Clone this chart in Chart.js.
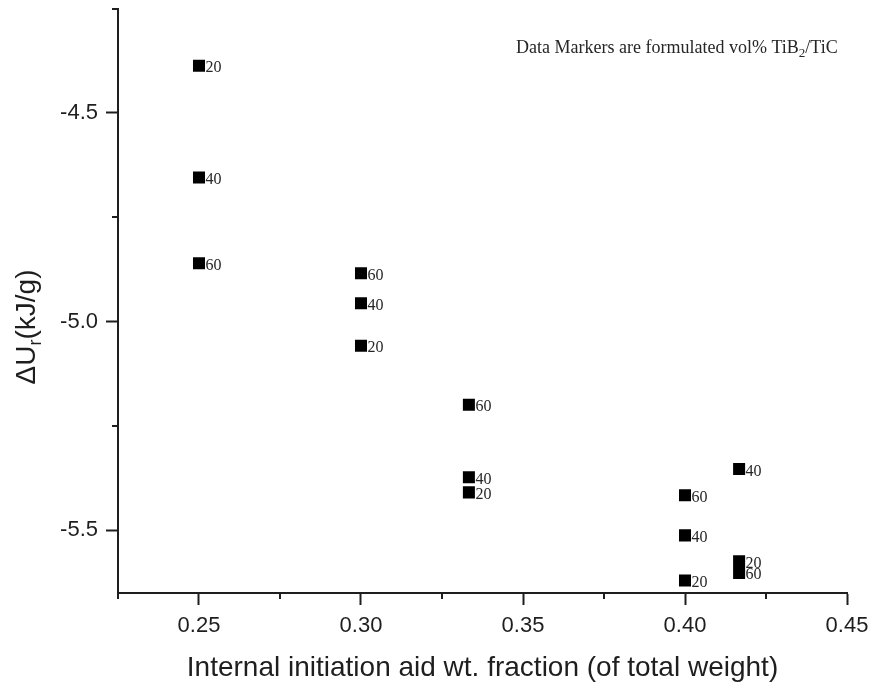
<!DOCTYPE html>
<html>
<head>
<meta charset="utf-8">
<title>Internal energy vs initiation aid fraction</title>
<script src="https://cdn.jsdelivr.net/npm/chart.js@4.4.1/dist/chart.umd.min.js"></script>
<style>
  html, body { margin: 0; padding: 0; background: #fff; }
  #wrap { width: 875px; height: 684px; }
</style>
</head>
<body>
<div id="wrap"><canvas id="energyChart" width="875" height="684"></canvas></div>
<script>
// initiation aid weight fraction for each formulation
const fractions = [0.25, 0.25, 0.25, 0.30, 0.30, 0.30, 0.3333, 0.3333, 0.3333,
                   0.40, 0.40, 0.40, 0.4167, 0.4167, 0.4167];
// reaction energy, kJ/g
const energies = [-4.387, -4.655, -4.860, -5.058, -4.956, -4.884, -5.409, -5.373, -5.199,
                  -5.620, -5.512, -5.416, -5.574, -5.353, -5.602];
// vol% TiB2/TiC printed next to each marker
const volPercents = ['20', '40', '60', '20', '40', '60', '20', '40', '60',
                     '20', '40', '60', '20', '40', '60'];

const xMajorTicks = [0.25, 0.30, 0.35, 0.40, 0.45];
const xMinorTicks = [0.225, 0.275, 0.325, 0.375, 0.425];
const yMajorTicks = [-5.5, -5.0, -4.5];
const yMinorTicks = [-5.25, -4.75, -4.25];

const ink = '#1e1e1e';
const sans = '"Liberation Sans", Arial, sans-serif';
const serif = '"Liberation Serif", "Times New Roman", serif';

function isIn(list, v) {
    return list.some(t => Math.abs(t - v) < 1e-6);
}

function setTicks(major, minor) {
    return scale => {
        scale.ticks = major.concat(minor).sort((a, b) => a - b).map(v => ({ value: v }));
    };
}

// fixed axis boxes, no extra room for overhanging tick labels
function fixBox(size, horizontal) {
    return scale => {
        if (horizontal) scale.height = size; else scale.width = size;
        scale.paddingTop = 0;
        scale.paddingBottom = 0;
        scale.paddingLeft = 0;
        scale.paddingRight = 0;
    };
}

// minor ticks are half length, drawn by hand; also the labels and titles with subscripts
const extrasPlugin = {
    id: 'extras',
    afterDraw(chart) {
        const ctx = chart.ctx;
        const xs = chart.scales.x;
        const ys = chart.scales.y;
        const area = chart.chartArea;
        ctx.save();

        ctx.strokeStyle = ink;
        ctx.lineWidth = 2;
        xMinorTicks.forEach(v => {
            const px = Math.round(xs.getPixelForValue(v));
            ctx.beginPath();
            ctx.moveTo(px, area.bottom);
            ctx.lineTo(px, area.bottom + 6);
            ctx.stroke();
        });
        yMinorTicks.forEach(v => {
            const py = Math.round(ys.getPixelForValue(v));
            ctx.beginPath();
            ctx.moveTo(area.left, py);
            ctx.lineTo(area.left - 6, py);
            ctx.stroke();
        });

        // vol% next to each marker
        const meta = chart.getDatasetMeta(0);
        ctx.fillStyle = '#262626';
        ctx.font = '16px ' + serif;
        ctx.textAlign = 'left';
        ctx.textBaseline = 'alphabetic';
        meta.data.forEach((pt, i) => {
            ctx.fillText(volPercents[i], pt.x + 6.5, pt.y + 6.5);
        });

        // note in the top right corner
        ctx.font = '18px ' + serif;
        let x = 516;
        const base = 53;
        const head = 'Data Markers are formulated vol% TiB';
        ctx.fillText(head, x, base);
        x += ctx.measureText(head).width;
        ctx.font = '13px ' + serif;
        ctx.fillText('2', x, base + 4);
        x += ctx.measureText('2').width;
        ctx.font = '18px ' + serif;
        ctx.fillText('/TiC', x, base);

        // x axis title
        ctx.fillStyle = ink;
        ctx.font = '28px ' + sans;
        ctx.textAlign = 'center';
        ctx.fillText('Internal initiation aid wt. fraction (of total weight)',
            (area.left + area.right) / 2, 676);

        // y axis title, rotated, with subscript r
        ctx.translate(35, 327);
        ctx.rotate(-Math.PI / 2);
        ctx.textAlign = 'left';
        const partA = '\u0394U';
        const partB = '(kJ/g)';
        ctx.font = '28px ' + sans;
        const wA = ctx.measureText(partA).width;
        const wB = ctx.measureText(partB).width;
        ctx.font = '18px ' + sans;
        const wR = ctx.measureText('r').width;
        let tx = -(wA + wR + wB) / 2;
        ctx.font = '28px ' + sans;
        ctx.fillText(partA, tx, 0);
        tx += wA;
        ctx.font = '18px ' + sans;
        ctx.fillText('r', tx, 6);
        tx += wR;
        ctx.font = '28px ' + sans;
        ctx.fillText(partB, tx, 0);

        ctx.restore();
    }
};

function initializeChart() {
    const ctx = document.getElementById('energyChart').getContext('2d');
    new Chart(ctx, {
        type: 'scatter',
        data: {
            datasets: [{
                data: fractions.map((f, i) => ({ x: f, y: energies[i] })),
                pointStyle: 'rect',
                pointRadius: 8.5,
                backgroundColor: '#000',
                borderWidth: 0
            }]
        },
        options: {
            responsive: false,
            devicePixelRatio: 1,
            animation: false,
            events: [],
            layout: { padding: { top: 6, right: 28, left: 0, bottom: 0 } },
            plugins: {
                legend: { display: false },
                tooltip: { enabled: false }
            },
            scales: {
                x: {
                    type: 'linear',
                    min: 0.225,
                    max: 0.45,
                    afterBuildTicks: setTicks(xMajorTicks, xMinorTicks),
                    afterFit: fixBox(91, true),
                    ticks: {
                        autoSkip: false,
                        maxRotation: 0,
                        padding: 8,
                        color: ink,
                        font: { family: sans, size: 22 },
                        callback: v => isIn(xMajorTicks, v) ? v.toFixed(2) : ''
                    },
                    grid: {
                        drawOnChartArea: false,
                        tickLength: 12,
                        tickWidth: 2,
                        tickColor: c => isIn(xMajorTicks, c.tick.value) ? ink : 'rgba(0,0,0,0)'
                    },
                    border: { color: ink, width: 2 }
                },
                y: {
                    type: 'linear',
                    min: -5.65,
                    max: -4.25,
                    afterBuildTicks: setTicks(yMajorTicks, yMinorTicks),
                    afterFit: fixBox(118, false),
                    ticks: {
                        autoSkip: false,
                        padding: 8,
                        color: ink,
                        font: { family: sans, size: 22 },
                        callback: v => isIn(yMajorTicks, v) ? v.toFixed(1) : ''
                    },
                    grid: {
                        drawOnChartArea: false,
                        tickLength: 12,
                        tickWidth: 2,
                        tickColor: c => isIn(yMajorTicks, c.tick.value) ? ink : 'rgba(0,0,0,0)'
                    },
                    border: { color: ink, width: 2 }
                }
            }
        },
        plugins: [extrasPlugin]
    });
}

document.addEventListener('DOMContentLoaded', initializeChart);
</script>
</body>
</html>
